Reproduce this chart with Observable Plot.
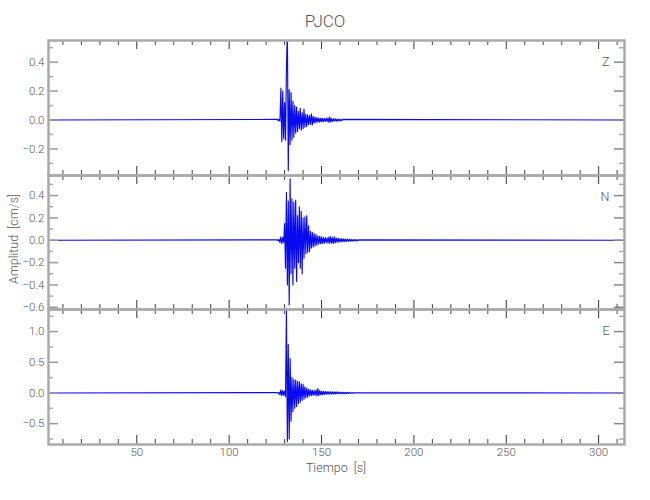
<!DOCTYPE html>
<html><head><meta charset="utf-8">
<script src="https://cdn.jsdelivr.net/npm/d3@7"></script>
<script src="https://cdn.jsdelivr.net/npm/@observablehq/plot@0.6"></script>
<style>
body{margin:0;background:#fff;}
#chart{position:relative;width:650px;height:500px;font-family:Roboto,"DejaVu Sans Condensed",sans-serif;font-weight:300;color:#555;overflow:hidden;}
.txt{position:absolute;white-space:pre;line-height:1;}
#chart svg{position:absolute;left:0;background:transparent;overflow:visible;}
</style></head><body>
<div id="chart">
  <div class="txt" id="title" style="left:0;width:650px;text-align:center;top:13px;font-size:17px;"></div>
  <div class="txt" id="ylab" style="left:14px;top:239px;font-size:12.5px;transform:translate(-50%,-50%) rotate(-90deg);"></div>
  <div class="txt" id="xlab" style="left:336px;top:462px;font-size:12.5px;transform:translateX(-50%);"></div>
</div>
<script>
// ---- labels ----
const title = "PJCO";
const yLabel = "Amplitud  [cm/s]";
const xLabel = "Tiempo  [s]";
const components = ["Z", "N", "E"];

// ---- x scale / ticks ----
const xDomain = [2.2, 314];
const xMajor = [50, 100, 150, 200, 250, 300];
const xMinor = [10, 20, 30, 40, 60, 70, 80, 90, 110, 120, 130, 140, 160, 170, 180, 190, 210, 220, 230, 240, 260, 270, 280, 290, 310];

// ---- y domains / ticks per component ----
const zDomain = [-0.384, 0.55];
const zMajor = [-0.2, 0.0, 0.2, 0.4];
const zMinor = [-0.3, -0.1, 0.1, 0.3, 0.5];
const nDomain = [-0.62, 0.58];
const nMajor = [-0.6, -0.4, -0.2, 0.0, 0.2, 0.4];
const nMinor = [-0.5, -0.3, -0.1, 0.1, 0.3, 0.5];
const eDomain = [-0.84, 1.36];
const eMajor = [-0.5, 0.0, 0.5, 1.0];
const eMinor = [-0.75, -0.25, 0.25, 0.75, 1.25];

// ---- traces: samples start at t0, every dt seconds (record is ~0 elsewhere) ----
const t0 = 126;
const dt = 0.5;
const zVals = [0.004,-0.005,0.006,-0.008,0.22,-0.15,0.20,-0.13,0.12,-0.14,0.36,0.62,-0.35,0.21,-0.17,0.19,-0.14,0.13,-0.12,0.10,
  -0.09,0.09,-0.08,0.06,-0.06,0.08,-0.07,0.05,-0.06,0.075,-0.05,0.04,-0.045,0.035,-0.03,0.03,-0.03,0.042,-0.035,0.025,
  -0.022,0.02,-0.018,0.016,-0.015,0.014,-0.015,0.012,-0.012,0.011,-0.012,0.010,-0.010,0.012,-0.011,0.015,-0.016,0.02,-0.014,0.010,
  -0.010,0.009,-0.008,0.008,-0.008,0.007,-0.007,0.006,-0.006,0.005,-0.005,0.004];
const nVals = [0.004,-0.005,0.008,-0.02,0.03,-0.03,0.025,-0.02,0.15,-0.25,0.43,-0.40,0.35,-0.58,0.55,-0.30,0.37,-0.40,0.34,-0.25,
  0.36,-0.37,0.22,-0.20,0.30,-0.25,0.26,-0.30,0.20,-0.16,0.21,-0.12,0.22,-0.11,0.13,-0.10,0.08,-0.07,0.07,-0.06,
  0.06,-0.05,0.05,-0.045,0.04,-0.035,0.035,-0.03,0.03,-0.03,0.025,-0.025,0.025,-0.022,0.022,-0.025,0.03,-0.028,0.032,-0.025,
  0.025,-0.03,0.03,-0.022,0.02,-0.018,0.018,-0.016,0.015,-0.014,0.014,-0.013,0.012,-0.012,0.011,-0.01,0.01,-0.01,0.009,-0.009,
  0.008,-0.008,0.007,-0.007,0.006,-0.006,0.005,-0.005,0.004];
const eVals = [0.005,-0.006,0.01,-0.03,0.05,-0.045,0.04,-0.035,0.03,-0.06,1.34,-0.79,0.79,-0.75,0.56,-0.46,0.25,-0.30,0.22,-0.25,
  0.21,-0.22,0.19,-0.17,0.18,-0.15,0.15,-0.12,0.14,-0.10,0.10,-0.08,0.08,-0.07,0.06,-0.05,0.05,-0.045,0.045,-0.04,
  0.04,-0.035,0.05,-0.05,0.07,-0.045,0.04,-0.03,0.03,-0.028,0.025,-0.025,0.025,-0.02,0.022,-0.02,0.02,-0.018,0.02,-0.018,
  0.018,-0.016,0.016,-0.015,0.016,-0.014,0.014,-0.013,0.012,-0.012,0.011,-0.01,0.01,-0.01,0.009,-0.009,0.008,-0.008,0.007,-0.007,
  0.006,-0.006,0.005,-0.005,0.004];

document.getElementById("title").textContent = title;
document.getElementById("ylab").textContent = yLabel;
document.getElementById("xlab").textContent = xLabel;

const fmt = d3.format(".1f");
const W = 650, ML = 48, MR = 26;

function panel(vals, domain, major, minor, name, top, frameH, mt, mb, showX) {
  const data = [{t: xDomain[0], v: 0}]
    .concat(vals.map((v, i) => ({t: t0 + i * dt, v})))
    .concat([{t: xDomain[1], v: 0}]);
  const fw = W - ML - MR;
  const svg = Plot.plot({
    width: W, height: mt + frameH + mb,
    marginLeft: ML, marginRight: MR, marginTop: mt, marginBottom: mb,
    style: {background: "transparent", overflow: "visible", fontFamily: "Roboto,'DejaVu Sans Condensed',sans-serif", fontWeight: 300, fontSize: "11.5px", color: "#555"},
    x: {domain: xDomain, axis: null, label: null},
    y: {domain, axis: null, label: null},
    marks: [
      Plot.line(data, {x: "t", y: "v", stroke: "#0a0af0", strokeWidth: 1.15, clip: true}),
      Plot.tickX(xMajor, {insetBottom: frameH - 9, stroke: "#333"}),
      Plot.tickX(xMajor, {insetTop: frameH - 9, stroke: "#333"}),
      Plot.tickX(xMinor, {insetBottom: frameH - 5, stroke: "#444"}),
      Plot.tickX(xMinor, {insetTop: frameH - 5, stroke: "#444"}),
      Plot.tickY(major, {insetRight: fw - 10, stroke: "#999", strokeWidth: 1.5}),
      Plot.tickY(major, {insetLeft: fw - 10, stroke: "#888", strokeWidth: 1.5}),
      Plot.tickY(minor, {insetRight: fw - 5, stroke: "#aaa", strokeWidth: 1.5}),
      Plot.tickY(minor, {insetLeft: fw - 5, stroke: "#aaa", strokeWidth: 1.5}),
      Plot.frame({stroke: "#aaa", strokeWidth: 2.5}),
      Plot.axisY(major, {tickSize: 0, tickPadding: 4, tickFormat: fmt, fill: "#555", label: null}),
      showX ? Plot.axisX(xMajor, {tickSize: 0, tickPadding: 3, fill: "#555", label: null}) : null,
      Plot.text([name], {text: d => d, frameAnchor: "top-right", dx: -15, dy: 21, lineAnchor: "middle", fill: "#555", fontSize: 12.5})
    ]
  });
  svg.style.top = (top - mt) + "px";
  document.getElementById("chart").appendChild(svg);
}

panel(zVals, zDomain, zMajor, zMinor, components[0], 40, 135, 10, 5, false);
panel(nVals, nDomain, nMajor, nMinor, components[1], 175, 134, 10, 5, false);
panel(eVals, eDomain, eMajor, eMinor, components[2], 309, 135, 10, 40, true);
</script>
</body></html>
